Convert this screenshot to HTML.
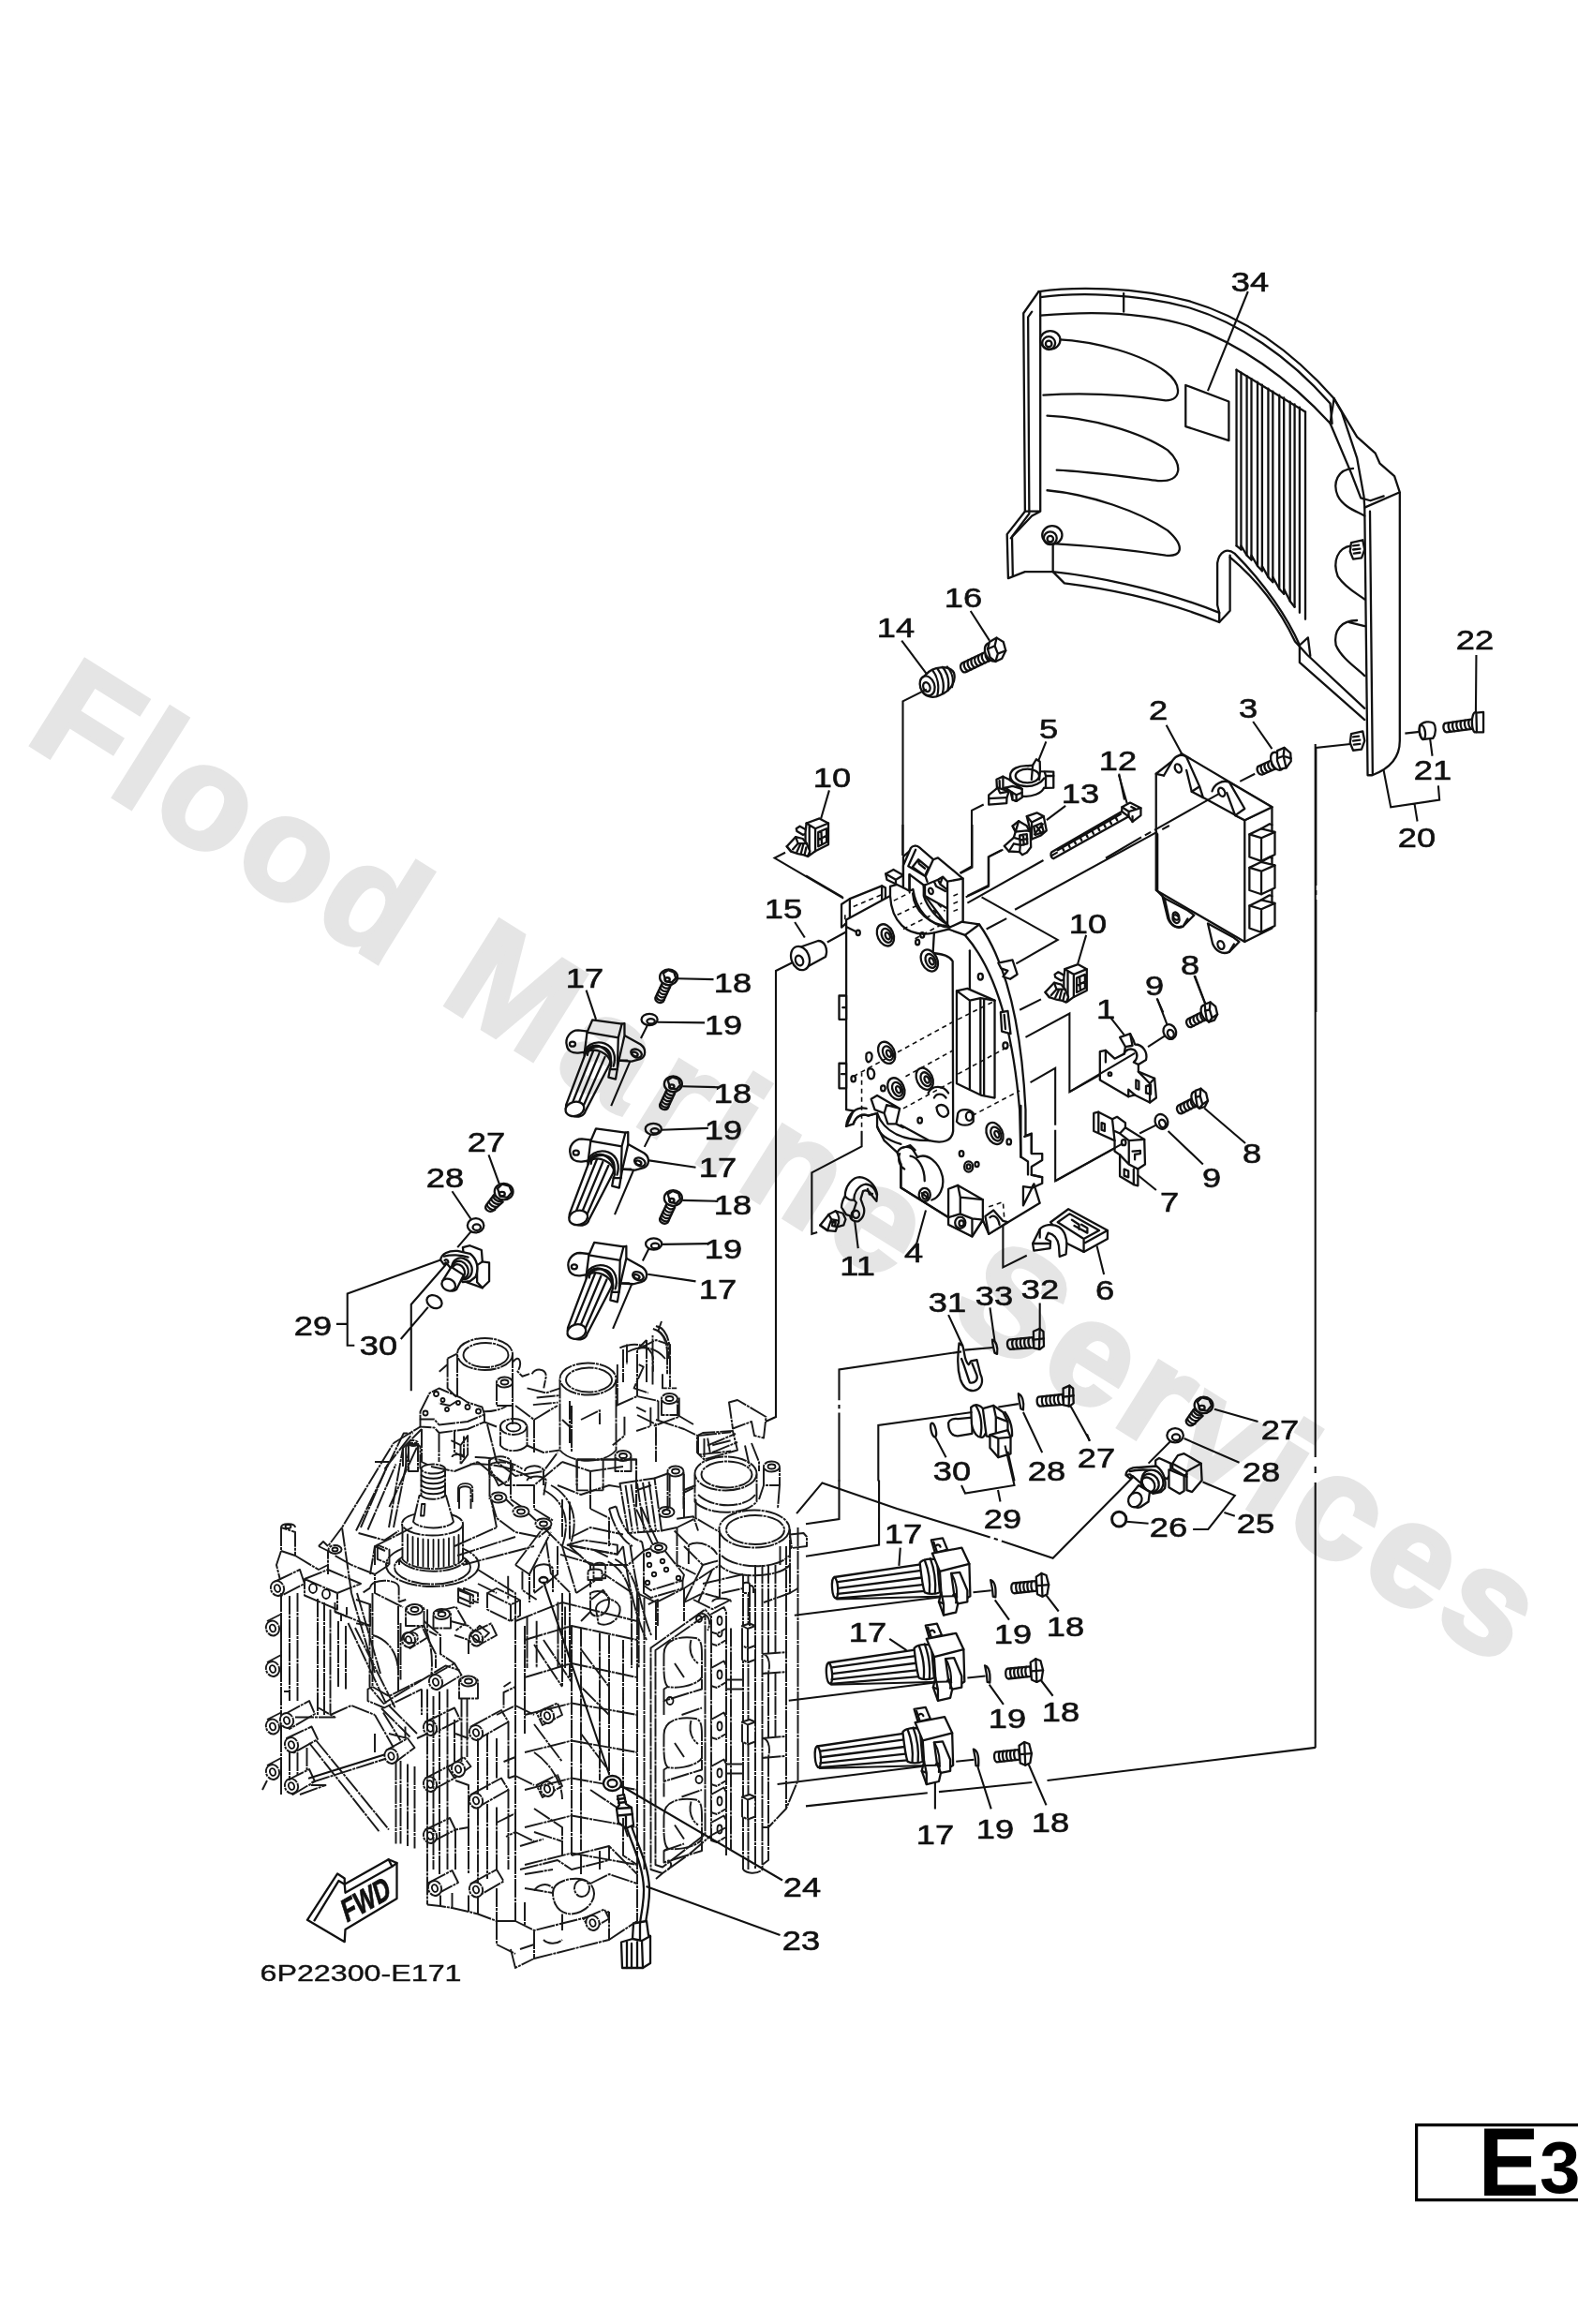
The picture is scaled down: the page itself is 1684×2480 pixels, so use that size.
<!DOCTYPE html>
<html><head><meta charset="utf-8"><title>E3 Electrical 2</title>
<style>
html,body{margin:0;padding:0;background:#fff;}
body{width:1684px;height:2480px;overflow:hidden;font-family:"Liberation Sans",sans-serif;}
svg{display:block;position:absolute;left:0;top:0;}
.k{fill:none;stroke:#111;stroke-width:2.3;stroke-linecap:round;stroke-linejoin:round;}
.k15{fill:none;stroke:#111;stroke-width:1.8;stroke-linecap:round;stroke-linejoin:round;}
.w{fill:#fff;stroke:#111;stroke-width:2.3;stroke-linecap:round;stroke-linejoin:round;}
.w15{fill:#fff;stroke:#111;stroke-width:1.5;stroke-linecap:round;stroke-linejoin:round;}
.ph{fill:none;stroke:#1a1a1a;stroke-width:1.95;stroke-linecap:butt;stroke-linejoin:round;stroke-dasharray:20 1 3 1;}
.phw{fill:#fff;stroke:#1a1a1a;stroke-width:1.95;stroke-linecap:butt;stroke-linejoin:round;stroke-dasharray:20 1 3 1;}
.cl{fill:none;stroke:#111;stroke-width:1.8;stroke-linecap:butt;stroke-dasharray:60 5 6 5;}
.ld{fill:none;stroke:#111;stroke-width:2.1;stroke-linecap:butt;}
.ds{fill:none;stroke:#111;stroke-width:1.6;stroke-dasharray:5 4;}
path,line,polyline,polygon,circle,ellipse,rect{vector-effect:non-scaling-stroke;}
.t{font-family:"Liberation Sans",sans-serif;font-size:29px;fill:#111;stroke:#111;stroke-width:0.6px;text-anchor:middle;}
</style></head><body>
<svg width="1684" height="2480" viewBox="0 0 1684 2480">
<!-- 10_cover.svg -->
<g transform="translate(1040 260) scale(0.40811)">
<!-- outer silhouette filled white to hide watermark? (watermark is below anyway) -->
<path class="k" d="M168,125 C260,112 420,112 560,150 C700,190 830,280 940,405 L1000,505 L1048,548 L1060,575 L1098,608 L1112,650 L1112,1300 C1112,1350 1080,1375 1040,1390 L1028,1390 L1020,690 L1112,650"/>
<path class="k" d="M168,125 L128,182 L132,700 L85,760 L88,875 L132,858 L205,858"/>
<path class="k" d="M172,128 L172,700 L132,700 M172,700 L150,712 L95,770 M205,775 L205,858"/>
<path class="k" d="M150,178 L140,192 L143,706 L98,766 L100,868"/>
<!-- top band second line -->
<path class="k" d="M172,140 C260,128 420,128 556,166 C690,205 822,295 930,418 L935,470"/>
<path class="k" d="M390,130 L390,178"/>
<!-- inner top curve -->
<path class="k" d="M172,188 C260,180 420,172 560,215 C690,260 820,350 930,470 L940,405"/>
<path class="k" d="M930,470 L985,600 L1010,665 L1035,672 L1070,660"/>
<path class="k" d="M940,405 L960,440 L1000,560 L1018,660 L1020,690"/>
<!-- bottom edges -->
<path class="k" d="M205,858 C300,868 480,900 640,965 L640,990 C480,925 330,900 235,888 L205,858"/>
<path class="k" d="M640,965 L635,945 L635,835 C640,805 660,795 680,810 C760,890 820,980 850,1050 L850,1095 L1020,1245"/>
<path class="k" d="M640,990 L668,960 L668,815"/>
<path class="k" d="M668,820 C740,880 800,960 838,1040 L870,1075 L1020,1215"/>
<path class="k" d="M850,1050 L872,1030 L878,1078"/>
<!-- ribs left -->
<path class="k" d="M215,250 C320,255 440,290 500,335 C540,365 545,410 500,410 C400,395 280,390 180,396"/>
<path class="k" d="M190,450 C300,455 430,490 505,540 C545,575 545,625 480,620 C400,610 300,596 215,592"/>
<path class="k" d="M190,645 C300,655 430,700 505,750 C550,790 545,820 500,815 C400,800 300,790 215,785"/>
<!-- bosses -->
<ellipse class="w" cx="198" cy="252" rx="26" ry="24"/><circle class="k" cx="194" cy="260" r="17"/><circle class="k" cx="194" cy="262" r="8"/>
<ellipse class="w" cx="203" cy="762" rx="26" ry="24"/><circle class="k" cx="198" cy="770" r="17"/><circle class="k" cx="198" cy="772" r="8"/>
<path class="k" d="M1034,700 L1041,1386"/>
<!-- label rect + leader -->
<path class="k" d="M552,370 L665,413 L665,515 L552,478 Z"/>
<path class="ld" d="M715,125 L610,385"/>
<!-- fins -->
<g class="k">
<path d="M685,330 L685,790 M697,337 L697,800"/>
<path d="M712,346 L712,815 M724,353 L724,827"/>
<path d="M740,362 L740,843 M752,369 L752,856"/>
<path d="M768,379 L768,872 M780,386 L780,885"/>
<path d="M797,396 L797,903 M809,403 L809,916"/>
<path d="M825,413 L825,935 M837,420 L837,950"/>
<path d="M850,428 L850,965 M865,440 L865,982"/>
<path d="M685,330 L865,440 M685,790 L697,800 L697,790 L712,815 L724,827 L724,815 L740,843 L752,856 L752,843 L768,872 L780,885 L780,872 L797,903 L809,916 L809,903 L825,935 L837,950"/>
</g>
<!-- right side fingers -->
<path class="k" d="M990,588 C950,590 935,625 950,660 C965,690 1000,700 1020,712"/>
<path class="k" d="M985,790 C950,795 935,830 950,870 C970,900 1000,915 1020,930"/>
<path class="k" d="M1000,985 C960,985 938,1010 945,1050 C960,1085 1000,1110 1020,1130 M980,990 L1020,1000"/>
<!-- bolts on right -->
<path class="w" d="M985,782 L1015,775 L1020,800 L1012,822 L990,825 L982,805 Z"/>
<path class="k" d="M990,790 L1005,788 M990,800 L1008,798 M992,810 L1008,808"/>
<path class="w" d="M985,1282 L1015,1275 L1020,1300 L1012,1322 L990,1325 L982,1305 Z"/>
<path class="k" d="M990,1290 L1005,1288 M990,1300 L1008,1298 M992,1310 L1008,1308"/>
</g>
<!-- 20_upper_mid.svg -->
<g transform="translate(800 600) scale(0.25349)">
<!-- leaders -->
<path class="ld" d="M930,205 L1010,330 M640,330 L745,470 M335,960 L300,1080 M1248,755 L1210,850 M1330,1025 L1250,1085 M1555,890 L1578,1000"/>
<!-- bolt 16 -->
<g>
<path class="w" d="M893,425 L1005,372 L1022,408 L910,462 C895,468 880,440 893,425 Z"/>
<path class="k" d="M905,420 C898,432 905,450 918,458 M920,412 C913,425 920,443 933,451 M935,405 C928,418 935,436 948,444 M950,398 C943,411 950,429 963,437 M965,391 C958,404 965,422 978,430 M980,384 C973,397 980,415 993,423 M995,377 C988,390 995,408 1008,416"/>
<ellipse class="w" cx="1020" cy="378" rx="28" ry="40" transform="rotate(-25 1020 378)"/>
<path class="w" d="M1010,335 L1040,318 L1068,335 L1078,372 L1062,405 L1035,418 L1012,400 L1002,365 Z"/>
<path class="k" d="M1040,318 L1032,352 L1002,365 M1032,352 L1045,385 L1035,418 M1045,385 L1078,372"/>
</g>
<!-- part 14 spring grommet -->
<g>
<path class="w" d="M745,470 C770,440 840,430 860,465 C870,500 850,540 800,560 C770,575 735,565 725,540 C712,515 720,490 745,470 Z"/>
<path class="k" d="M770,455 C790,480 800,520 790,562 M790,447 C812,475 822,515 812,552 M812,441 C834,468 842,505 834,540 M832,440 C852,462 860,495 852,525"/>
<ellipse class="w" cx="748" cy="520" rx="30" ry="42" transform="rotate(-20 748 520)"/>
<ellipse class="k" cx="745" cy="525" rx="14" ry="20" transform="rotate(-20 745 525)"/>
</g>
<path class="ld" d="M745,535 L645,585 L645,1235"/>
<path class="ld" d="M150,1222 L105,1245 L395,1415"/>
<path class="ld" d="M985,1020 L935,1045 L935,1280 L885,1308"/>
<path class="ld" d="M1060,1212 L1005,1240 L1005,1365 L910,1410"/>
<!-- centre lines to ECU -->
<path class="ld" d="M190,1515 L232,1580"/>
</g>
<!-- 21_ecu.svg -->
<g transform="translate(1180 680) scale(0.25349)">
<!-- leaders -->
<path class="ld" d="M255,370 L320,490 M620,355 L700,470 M55,580 L90,700 M1365,425 L1375,500 M1560,75 L1558,320 M375,1425 L420,1545 M215,1520 L242,1580"/>
<!-- ECU bottom tabs (behind) -->
<path class="w" d="M240,1095 L262,1185 C275,1215 300,1230 325,1218 L372,1170 L345,1150 Z"/>
<ellipse class="k" cx="296" cy="1186" rx="13" ry="18" transform="rotate(-25 296 1186)"/>
<path class="w" d="M430,1205 L450,1290 C462,1320 490,1338 520,1325 L562,1282 L535,1262 Z"/>
<ellipse class="k" cx="485" cy="1296" rx="13" ry="18" transform="rotate(-25 485 1296)"/>
<path class="k" d="M325,1218 L345,1185 M520,1325 L540,1292"/>
<!-- ECU body -->
<path class="w" d="M212,575 L320,490 L700,715 L700,1225 L585,1282 L212,1065 Z"/>
<path class="k" d="M212,575 L245,582 M585,770 L585,1282 M585,770 L700,715 M410,675 L585,770"/>
<!-- ear 1 -->
<path class="w" d="M245,582 L282,518 C295,498 325,488 340,505 L395,628 L362,650 L410,675 L395,628"/>
<path class="k" d="M362,650 L340,560"/>
<ellipse class="k" cx="305" cy="552" rx="13" ry="19" transform="rotate(-25 305 552)"/>
<!-- ear 2 -->
<path class="w" d="M448,648 C455,620 490,598 520,610 L585,722 L545,750 L585,770 L700,715 L520,610"/>
<path class="k" d="M545,750 L510,655"/>
<ellipse class="k" cx="488" cy="652" rx="13" ry="19" transform="rotate(-25 488 652)"/>
<!-- connectors -->
<g id="ecucon">
<path class="w" d="M605,830 L655,806 L712,820 L712,915 L655,942 L605,925 Z"/>
<path class="k" d="M605,830 L655,845 L712,820 M655,845 L655,942 M655,806 L690,786 L700,790"/>
</g>
<use href="#ecucon" y="140"/>
<use href="#ecucon" y="300"/>
<!-- bolt 3 -->
<path class="w" d="M640,545 L720,508 L735,545 L660,578 C645,582 632,560 640,545 Z"/>
<path class="k" d="M655,540 C650,552 656,568 668,574 M670,533 C665,545 671,561 683,567 M685,526 C680,538 686,554 698,560 M700,519 C695,531 701,547 713,553"/>
<ellipse class="w" cx="722" cy="522" rx="24" ry="40" transform="rotate(-25 722 522)"/>
<path class="w" d="M722,478 L752,465 L778,488 L780,522 L760,550 L735,555 L722,520 Z"/>
<path class="k" d="M752,465 L748,500 L722,510 M748,500 L760,550 M748,500 L780,510"/>
<path class="ld" d="M565,607 L628,575"/>
<!-- centreline through ECU hole -->
<path class="ld" d="M478,658 L205,812 M190,820 L165,834 M150,842 L0,930"/>
<!-- long centre line at x=885 -->
<path class="ld" d="M1030,450 L885,465 L885,1045 M885,1065 L885,1085 M885,1105 L885,1578"/>
<!-- collar 21 -->
<path class="w" d="M1322,372 C1335,355 1365,352 1380,362 C1392,375 1390,410 1378,425 L1335,430 C1322,420 1318,390 1322,372 Z"/>
<ellipse class="k" cx="1333" cy="400" rx="12" ry="30" transform="rotate(-8 1333 400)"/>
<path class="ld" d="M1260,405 L1322,398"/>
<!-- bolt 22 -->
<path class="w" d="M1428,362 L1545,345 L1550,385 L1435,400 C1420,398 1418,370 1428,362 Z"/>
<path class="k" d="M1445,360 C1440,372 1443,390 1452,397 M1462,358 C1457,370 1460,388 1469,395 M1479,355 C1474,367 1477,385 1486,392 M1496,353 C1491,365 1494,383 1503,390 M1513,350 C1508,362 1511,380 1520,387 M1530,348 C1525,360 1528,378 1537,385"/>
<ellipse class="w" cx="1556" cy="358" rx="14" ry="42"/>
<path class="w" d="M1560,318 L1590,315 L1590,400 L1562,400 Z"/>
<!-- bracket 20 -->
<path class="ld" d="M1170,560 L1200,715 L1405,685 L1400,625 M1300,702 L1312,775"/>
</g>
<!-- 22_clips_5_13_12.svg -->
<g transform="translate(1040 790) scale(0.12674)">
<!-- clip 5 -->
<path class="w" d="M300,300 C300,240 370,212 450,215 L490,210 L520,160 L550,180 L552,262 L665,265 L665,400 L600,402 L585,400 C570,445 480,480 405,470 L400,480 L352,512 L320,500 L300,420 Z"/>
<ellipse class="k" cx="445" cy="300" rx="100" ry="58"/>
<path class="k" d="M490,210 L480,330 M552,262 L545,330 M600,402 L600,300 L665,300 M600,300 L590,265 M300,300 C305,350 360,385 440,388 C500,388 560,360 585,320"/>
<path class="w" d="M185,330 L240,305 L290,330 L400,410 L400,480 L352,512 L320,500 L318,440 L260,400 L240,405 L235,450 L190,420 Z"/>
<path class="k" d="M240,305 L240,405 M210,340 L212,410 M260,400 L320,385 L400,410 M318,440 L352,460 L400,440 M352,460 L352,512"/>
<path class="w" d="M120,460 L195,400 L290,430 L272,482 L270,530 L120,542 Z"/>
<path class="k" d="M120,490 L270,482 M195,400 L215,445 L290,430"/>
<!-- clip 13 -->
<path class="w" d="M440,640 L525,610 L582,640 L606,760 L560,800 L482,832 L470,760 Z"/>
<path class="k" d="M440,640 L482,690 L582,640 M482,690 L482,832 M500,725 L562,698 L582,770 L512,797 Z M505,790 L575,705 M520,720 L565,785"/>
<path class="w" d="M320,722 L372,680 L440,720 L462,765 L470,760 L475,900 L440,945 L402,965 L380,940 L290,935 L250,890 L330,820 L345,770 Z"/>
<path class="k" d="M320,722 L345,770 L440,760 L462,765 M345,770 L372,680 M380,800 L440,790 L445,870 L385,885 Z M385,840 L445,830 M410,795 L415,880 M330,820 L385,835 M290,935 L330,870 L380,880 M380,940 L385,885"/>
<!-- cable tie 12 -->
<path class="w" d="M650,940 L1240,600 L1242,562 L1310,525 L1400,570 L1400,632 L1330,686 L1298,642 L664,996 C640,990 638,950 650,940 Z"/>
<path class="k" d="M1242,562 L1298,600 L1400,570 M1298,600 L1298,642 M1240,600 L1298,642 M1320,560 L1350,575 M1330,640 L1330,686"/>
<path class="k" d="M740,905 L752,928 M790,876 L802,899 M840,848 L852,871 M890,820 L902,843 M940,792 L952,815 M990,764 L1002,787 M1040,736 L1052,759 M1090,708 L1102,731 M1140,680 L1152,703 M1190,652 L1202,675"/>
<path class="k" d="M700,925 L1230,622"/>
</g>
<!-- 23_clips10.svg -->
<g transform="translate(820 850) scale(0.12674)">
<defs><g id="clip10">
<path class="w" d="M235,270 L265,250 L322,282 L322,312 L290,322 L240,292 Z"/>
<path class="w" d="M320,225 L430,185 L505,225 L505,405 L395,460 L340,500 L312,470 L312,300 Z"/>
<path class="k" d="M320,225 L395,270 L505,225 M395,270 L395,460 M420,300 L490,270 L490,385 L420,420 Z M420,365 L490,330 M445,290 L450,405 M345,245 L345,480"/>
<path class="w" d="M155,420 L230,340 L290,355 L322,395 L350,460 L332,505 L300,492 L250,482 L190,462 Z"/>
<path class="k" d="M230,340 L250,395 L322,395 M250,395 L205,445 M270,400 L240,465 M295,400 L275,478 M318,430 L305,490 M155,420 L190,462"/>
</g></defs>
<use href="#clip10"/><use href="#clip10" x="2176" y="1228"/>
</g>
<!-- 30_bracket_top.svg -->
<g transform="translate(860 880) scale(0.25349)">
<!-- lines behind -->
<path class="ld" d="M700,0 L700,180 L650,205 M770,135 L770,255 L680,300 M770,135 L830,105"/>
<path class="ld" d="M740,305 L1060,485 L885,585 M1180,465 L1145,585 M900,780 L990,735"/>
<path class="ld" d="M925,895 L1110,795 L1110,1125 L1395,965 M945,1085 L1050,1025 L1050,1265 M1050,1285 L1050,1500 L1350,1335"/>
<path class="ld" d="M1285,815 L1340,885 M1480,735 L1520,840 M1440,935 L1510,890 M1405,1300 L1480,1262 M1525,1290 L1672,1430"/>
<path class="ld" d="M680,330 L1000,150 M1030,133 L1060,116 M880,358 L1480,30 M1500,20 L1530,4 M760,440 L845,395"/>
<path class="ld" d="M90,495 L345,355 M0,215 L155,305"/>
<!-- left top plate (behind) -->
<path class="w" d="M150,335 L185,312 L320,258 L335,265 L335,322 L185,402 L150,432 Z"/>
<path class="k" d="M185,312 L185,402 M320,258 L320,330"/>
<path class="ds" d="M200,345 L330,290 M165,380 L165,420"/>
<!-- main plate -->
<path class="w" d="M170,400 L355,300 L355,260 L410,245 L410,135 L460,90 L480,100 L540,150 L555,145 L660,235 L660,410 L730,420 C830,560 905,800 925,1200 L925,1310 L950,1300 L950,1385 L995,1385 L995,1412 L950,1440 L950,1475 L995,1485 L995,1510 L950,1530 L960,1513 L985,1593 L770,1723 L745,1665 L700,1733 L600,1683 L600,1653 L400,1528 L400,1430 L385,1380 L330,1330 L300,1270 L300,1215 L262,1225 C240,1215 210,1225 200,1260 L170,1270 L200,1205 L170,1200 Z"/>
<!-- left edge tabs -->
<path class="w" d="M140,720 L170,720 L170,820 L140,820 Z M140,1005 L170,1005 L170,1110 L140,1110 Z"/>
<path class="k" d="M155,770 L165,770 M150,1050 L165,1050"/>
<!-- arcs -->
<path class="k" d="M355,300 C360,400 420,480 540,455 L600,440 M450,290 C455,360 520,430 612,425"/>
<path class="k" d="M540,455 L535,540 M670,465 L730,420 M670,465 L600,440"/>
<path class="ds" d="M370,320 L440,285 M385,380 L490,330 M410,440 L540,375 M460,480 L600,405 M600,300 L600,420 M630,250 L630,410"/>
<!-- inner arc of plate edge -->
<path class="k" d="M670,465 C790,600 870,850 900,1200 L905,1400"/>
<path class="k" d="M690,530 L690,690"/>
<!-- raised panel -->
<path class="k" d="M170,430 L210,450 M535,540 C560,545 600,545 618,575 L620,1290 C615,1330 580,1345 520,1330 L400,1265"/>
<path class="k" d="M300,1215 C330,1300 420,1330 520,1330"/>
<!-- ribbed block -->
<path class="w" d="M635,700 L680,690 L795,740 L795,1150 L740,1140 L635,1090 Z"/>
<path class="k" d="M635,700 L690,740 L690,1115 M690,740 L735,730 L795,740 M735,730 L735,1135 M750,735 L750,1140"/>
<!-- grommets -->
<defs><g id="grm"><ellipse class="w" cx="0" cy="0" rx="33" ry="48" transform="rotate(-25)"/><ellipse class="k" cx="4" cy="4" rx="20" ry="31" transform="rotate(-25)"/><ellipse class="k" cx="7" cy="7" rx="9" ry="15" transform="rotate(-25)"/></g></defs>
<use href="#grm" x="335" y="465"/><use href="#grm" x="520" y="572"/><use href="#grm" x="340" y="960"/><use href="#grm" x="500" y="1070"/><use href="#grm" x="380" y="1112"/><use href="#grm" x="795" y="1300"/>
<path class="w" d="M640,1215 C650,1195 690,1195 705,1215 L705,1250 C690,1270 650,1270 635,1250 Z"/><ellipse class="k" cx="688" cy="1228" rx="14" ry="18"/>
<!-- small holes -->
<g class="k"><ellipse cx="220" cy="455" rx="8" ry="11"/><ellipse cx="735" cy="640" rx="10" ry="13"/><ellipse cx="840" cy="930" rx="10" ry="13"/><ellipse cx="200" cy="1070" rx="9" ry="12"/><ellipse cx="325" cy="1110" rx="9" ry="12"/><ellipse cx="480" cy="1245" rx="9" ry="12"/><ellipse cx="655" cy="1385" rx="9" ry="12"/><ellipse cx="855" cy="1335" rx="9" ry="12"/><ellipse cx="490" cy="465" rx="8" ry="11"/><ellipse cx="470" cy="495" rx="8" ry="11"/><ellipse cx="685" cy="1440" rx="18" ry="22"/><ellipse cx="685" cy="1440" rx="8" ry="10"/><ellipse cx="720" cy="1430" rx="8" ry="10"/></g>
<!-- slots -->
<path class="k" d="M255,965 C270,950 285,965 275,990 C262,1010 250,995 255,965 Z M262,1030 C280,1020 295,1040 285,1065 C270,1080 255,1060 262,1030 Z M515,1130 C530,1095 580,1095 600,1130 M540,1150 C550,1130 575,1130 590,1150 M550,1190 C565,1170 600,1180 600,1215 C590,1240 555,1235 550,1190 Z"/>
<!-- right side clips -->
<path class="w" d="M810,582 L870,570 L890,630 L860,650 L830,640 L850,615 L822,605 Z"/>
<path class="w" d="M820,790 L850,785 L862,880 L825,870 Z"/>
<path class="k" d="M835,800 L840,860"/>
<!-- dashed hidden lines -->
<path class="ds" d="M200,1060 L620,830 M640,820 L800,740 M420,1060 L620,950 M640,1050 L860,930 M410,1195 L620,1080 M700,1225 L900,1120 M235,1040 L235,1290"/>
<!-- lower wire guide -->
<path class="k" d="M170,1270 C175,1215 215,1185 255,1195 M200,1260 C210,1225 240,1215 262,1225 L300,1215 M275,1155 L300,1140 L395,1195 L380,1260 L410,1275 M275,1155 L290,1200 L330,1215 L340,1180 L395,1195 M330,1215 L345,1260 L380,1260 M300,1270 C310,1310 350,1330 400,1345"/>
<!-- pipe clamp lower -->
<path class="k" d="M385,1380 C400,1350 440,1350 455,1375 L470,1400 C510,1380 560,1420 575,1480 C585,1530 560,1570 530,1580 M395,1385 C385,1410 395,1440 415,1450 M440,1395 C470,1400 500,1440 500,1500 M410,1360 L440,1350 L460,1370"/>
<!-- lower left lines -->
<path class="ld" d="M235,1290 L235,1355 L25,1465 L25,1723 L48,1716"/>
<!-- vertical from 14 -->
<path class="ld" d="M408,0 L408,130"/>
<!-- part 1 bracket -->
<g>
<path class="w" d="M1238,955 L1262,950 L1300,985 L1340,965 L1345,935 L1322,895 L1365,880 L1378,905 L1385,925 C1420,925 1440,960 1432,990 L1400,1010 L1400,1040 L1468,1068 L1475,1150 L1448,1170 L1385,1138 L1358,1145 L1238,1075 Z"/>
<path class="k" d="M1365,880 L1375,930 L1345,935 M1340,965 C1345,945 1370,940 1385,950 C1400,965 1395,990 1380,1000 L1400,1010 M1262,950 L1262,1000 M1358,1145 L1358,1115 L1385,1138 M1448,1170 L1448,1090 L1400,1040 M1448,1090 L1468,1068"/>
<path class="k" d="M1390,1075 L1402,1080 L1402,1115 L1390,1110 Z M1432,1100 L1452,1095 L1452,1135 L1432,1130 Z"/>
<circle class="k" cx="1280" cy="1050" r="7"/>
</g>
<path class="ld" d="M1385,962 L1110,1125"/>
<!-- washers 9 -->
<ellipse class="w" cx="1532" cy="872" rx="26" ry="32" transform="rotate(-25 1532 872)"/><ellipse class="k" cx="1536" cy="880" rx="13" ry="17" transform="rotate(-25 1536 880)"/>
<ellipse class="w" cx="1497" cy="1250" rx="26" ry="32" transform="rotate(-25 1497 1250)"/><ellipse class="k" cx="1501" cy="1258" rx="13" ry="17" transform="rotate(-25 1501 1258)"/>
<!-- part 7 bracket -->
<g>
<path class="w" d="M1212,1215 L1232,1210 L1290,1240 L1310,1230 L1345,1255 L1345,1275 L1425,1325 L1428,1430 L1398,1450 L1398,1520 L1380,1515 L1322,1480 L1322,1390 L1300,1375 L1300,1330 L1212,1290 Z"/>
<path class="k" d="M1232,1210 L1232,1295 M1290,1240 L1300,1330 M1345,1275 L1322,1300 L1300,1290 M1322,1300 L1360,1330 L1425,1325 M1360,1330 L1360,1430 L1398,1450 M1360,1430 L1322,1390 M1380,1450 L1380,1515"/>
<path class="k" d="M1245,1255 L1258,1260 L1258,1290 L1245,1285 Z M1375,1375 L1408,1372 L1408,1385 L1385,1388 L1385,1410 M1340,1450 L1358,1458 L1358,1485 L1340,1478 Z"/>
<ellipse class="k" cx="1338" cy="1338" rx="9" ry="12"/>
</g>
<path class="ld" d="M1335,1342 L1050,1500"/>
<!-- ECU lower tab remnant -->
<path class="k" d="M1480,40 L1480,280 L1510,310 L1530,400 C1540,425 1560,435 1580,428"/>
<ellipse class="k" cx="1558" cy="385" rx="12" ry="17" transform="rotate(-25 1558 385)"/>
</g>
<!-- 30b_hook.svg -->
<g transform="translate(930 890) scale(0.12674)">
<path class="w" d="M120,335 L185,300 L268,348 L268,452 L130,385 Z"/>
<path class="k" d="M120,335 L205,385 L268,348 M205,385 L205,420"/>
<path class="w" d="M268,452 L268,265 L330,120 C345,95 385,95 402,112 L520,215 L560,200 L770,375 L770,735 L660,785 L600,720 L450,520 L440,430 L320,340 L320,480 Z"/>
<path class="k" d="M310,270 L372,132 M345,278 L395,215 L480,285 L450,352 Z M310,270 L455,357 L520,215 M455,357 L470,402 M395,215 L400,250 L450,290"/>
<path class="k" d="M450,430 L560,385 L600,360 L640,400 L770,375 M560,385 L578,422 L640,470 M640,400 L640,760 M450,430 L450,520 L640,628 M528,400 L545,440 L622,482 M600,360 L578,422"/>
<ellipse class="k" cx="500" cy="480" rx="18" ry="26" transform="rotate(-20 500 480)"/>
<path class="ds" d="M690,520 L740,500 M690,585 L740,565 M690,650 L740,630 M560,590 L620,650 M520,640 L600,720"/>
<path class="k" d="M320,340 L320,480 L350,465 C370,620 480,780 660,785 M440,430 L440,520 C470,620 560,720 640,760"/>
</g>
<!-- 31_bracket_low.svg -->
<g transform="translate(860 1180) scale(0.25349)">
<!-- leaders -->
<path class="ld" d="M1225,590 L1255,710 M205,480 L220,600 M505,440 L465,585 M1395,290 L1475,355 M600,880 L660,1010 M775,850 L795,990 M985,830 L985,935 M1115,1265 L1195,1410 M915,1290 L995,1460 M545,1395 L590,1480"/>
<path class="ld" d="M830,490 L830,680 L930,630"/>
<!-- bracket lower details -->
<path class="k" d="M400,245 L400,345 L600,470"/>
<path class="k" d="M905,0 L905,215 L935,235 L935,290 M920,130 L950,120 M950,200 L950,120 M950,290 L995,300 M915,340 L915,420 L960,330 M950,345 L915,340"/>
<ellipse class="k" cx="500" cy="375" rx="24" ry="28"/><ellipse class="k" cx="502" cy="378" rx="12" ry="15"/><path class="k" d="M488,368 L515,388"/>
<!-- block -->
<path class="w" d="M600,350 L640,335 L745,395 L745,480 L700,550 L600,500 Z"/>
<path class="k" d="M640,335 L650,385 L745,395 M650,385 L650,455 L700,475 L745,480 M700,475 L700,550 M600,470 L650,455"/>
<ellipse class="k" cx="650" cy="492" rx="22" ry="24"/><ellipse class="k" cx="655" cy="495" rx="10" ry="12"/>
<path class="w" d="M755,465 L790,440 L830,485 L850,490 L770,540 Z"/>
<path class="k" d="M775,470 C790,455 810,470 815,500"/>
<path class="ds" d="M770,425 L830,405 L835,470"/>
<!-- part 6 clip -->
<g>
<path class="w" d="M1030,490 L1105,435 L1270,525 L1270,560 L1170,615 L1100,580 Z"/>
<path class="k" d="M1060,490 L1110,455 L1235,525 L1170,560 Z M1170,560 L1170,615 M1170,580 L1270,525 M1120,480 L1150,500 L1150,520 M1130,505 L1185,535 L1185,515 L1160,500"/>
<path class="w" d="M985,520 C1000,500 1040,495 1065,510 C1090,525 1100,560 1098,590 L1095,625 L1068,635 L1065,590 C1060,560 1045,540 1020,535 L1010,560 L1030,570 L1028,600 L960,610 L955,580 Z"/>
<path class="k" d="M955,580 L1028,580 M985,520 L985,555"/>
</g>
<!-- clip 31 -->
<path class="w" d="M645,1000 L660,1010 C670,1040 665,1070 685,1090 L695,1075 L720,1070 L735,1130 C750,1160 740,1195 705,1200 C680,1200 660,1180 650,1150 C635,1100 640,1050 645,1000 Z"/>
<path class="k" d="M655,1065 C670,1100 680,1140 690,1165 C710,1170 725,1155 720,1135 L700,1085"/>
<!-- washer 33 -->
<path class="w" d="M785,985 C800,990 810,1015 805,1045 L795,1040 C790,1020 785,1000 785,985 Z"/>
<!-- bolt 32 -->
<g id="bolth">
<path class="w" d="M855,985 L955,975 L960,1018 L860,1025 C845,1020 845,990 855,985 Z"/>
<path class="k" d="M872,984 C866,995 868,1015 876,1023 M889,982 C883,993 885,1013 893,1021 M906,980 C900,991 902,1011 910,1019 M923,979 C917,990 919,1010 927,1018 M940,977 C934,988 936,1008 944,1016"/>
<path class="w" d="M958,950 L985,938 L1000,950 L1002,1012 L985,1025 L960,1020 Z"/>
<path class="k" d="M985,938 L982,1025 M960,985 L1002,980"/>
</g>
<use href="#bolth" x="125" y="240"/>
<path class="ld" d="M655,1035 L140,1110 L140,1240 M140,1258 L140,1275 M140,1292 L140,1580 M668,1028 L788,1018"/>
<!-- washer 28 -->
<path class="w" d="M895,1212 C910,1218 920,1245 915,1280 L905,1275 C900,1250 895,1230 895,1212 Z"/>
<!-- sensor 29 -->
<g>
<path class="w" d="M600,1335 C605,1320 625,1315 640,1318 L700,1312 L700,1380 L640,1390 C615,1392 600,1370 600,1335 Z"/>
<path class="w" d="M695,1270 C715,1250 740,1260 755,1290 C770,1330 765,1380 745,1395 C725,1400 705,1380 698,1340 Z"/>
<path class="w" d="M745,1275 L790,1262 L830,1290 L850,1330 L850,1380 L800,1400 L760,1390 Z"/>
<path class="k" d="M715,1262 C735,1290 745,1340 735,1392 M790,1262 L800,1310 L850,1330 M800,1310 L800,1400"/>
<path class="w" d="M775,1385 L850,1365 L862,1395 L862,1465 L810,1480 L775,1440 Z"/>
<path class="k" d="M775,1385 L810,1400 L862,1395 M810,1400 L810,1480"/>
<path class="k" d="M838,1290 C860,1320 870,1350 868,1390"/>
</g>
<path class="ld" d="M700,1290 L305,1345 L305,1580 M810,1268 L895,1255 M850,1455 L878,1580"/>
<ellipse class="k" cx="537" cy="1365" rx="10" ry="30" transform="rotate(-12 537 1365)"/>
</g>
<!-- 32_bolts8.svg -->
<g transform="translate(1180 1000) scale(0.12674)">
<defs><g id="bolt8">
<path class="w" d="M690,690 L840,615 L870,680 L720,758 C690,765 665,715 690,690 Z"/>
<path class="k" d="M715,680 C700,700 712,740 740,748 M745,665 C730,685 742,725 770,733 M775,650 C760,670 772,710 800,718 M805,635 C790,655 802,695 830,703"/>
<ellipse class="w" cx="850" cy="640" rx="42" ry="72" transform="rotate(-25 850 640)"/>
<path class="w" d="M835,565 L880,548 L925,585 L940,650 L915,700 L868,715 L850,690 L838,620 Z"/>
<path class="k" d="M880,548 L875,610 L838,620 M875,610 L895,680 L868,715 M895,680 L940,650"/>
</g></defs>
<use href="#bolt8"/><use href="#bolt8" x="-80" y="728"/>
<path class="ld" d="M745,325 L835,555 M830,1440 L1176,1736"/>
</g>
<!-- part 15 spacer redone (source coords) -->
<g transform="translate(789 600) scale(0.5)">
<path class="w" d="M128,822 L168,808 C182,808 190,825 184,842 L140,866 Z"/>
<ellipse class="w" cx="130" cy="845" rx="19" ry="26" transform="rotate(-20 130 845)"/>
<ellipse class="k" cx="128" cy="850" rx="8" ry="11" transform="rotate(-20 128 850)"/>
<path class="ld" d="M112,855 L78,872 L78,1580"/>
</g>
<!-- 33_clip11.svg -->
<g transform="translate(860 1220) scale(0.12674)">
<path class="w" d="M330,445 C330,350 400,285 452,285 C520,290 590,350 600,430 L595,488 L550,432 C540,400 505,392 482,402 L462,470 L480,520 C500,560 495,620 445,655 C400,665 375,640 370,610 L340,600 L300,540 C300,500 315,470 330,445 Z"/>
<path class="k" d="M405,475 C405,405 452,352 505,345 C550,345 585,385 595,430 M405,475 L425,500 L405,560 C385,580 380,600 385,625 M520,385 L535,430 L560,425 M330,445 C345,470 380,485 405,475"/>
<ellipse class="k" cx="422" cy="598" rx="28" ry="32"/>
<path class="w" d="M120,690 L192,600 L250,570 L312,590 L335,640 L318,690 L262,705 L250,740 L182,735 Z"/>
<path class="k" d="M250,570 C280,600 290,650 262,705 M192,600 L215,640 L182,735 M215,640 L262,650 M225,660 L250,665 L245,700 L222,695 Z M120,690 L182,735"/>
</g>
<!-- 40_vcoils.svg -->
<g transform="translate(560 1010) scale(0.19011)">
<defs>
<g id="vcoil">
<path class="ld" d="M610,600 L485,895 M690,440 L652,515"/>
<path class="w" d="M236,555 C225,515 255,470 300,470 L560,500 L650,550 C685,575 680,620 648,632 L600,645 L520,640 L340,592 L300,598 C265,600 240,585 236,555 Z"/>
<ellipse class="k" cx="268" cy="548" rx="16" ry="13"/>
<ellipse class="k" cx="626" cy="600" rx="32" ry="22" transform="rotate(25 626 600)"/><ellipse class="k" cx="618" cy="604" rx="17" ry="11" transform="rotate(25 618 604)"/>
<path class="w" d="M232,890 L345,590 C400,565 470,600 482,650 L340,925 C335,950 300,962 270,952 C240,940 226,915 232,890 Z"/>
<path class="k" d="M385,585 L270,872 M418,600 L300,885 M450,620 L325,905"/>
<ellipse class="w" cx="281" cy="912" rx="53" ry="40" transform="rotate(-15 281 912)"/>
<path class="w" d="M350,482 L380,412 L545,435 L560,432 L560,500 L528,640 L510,745 L470,735 L478,690 C500,640 470,580 420,560 C390,550 360,560 335,600 Z"/>
<path class="k" d="M545,435 L525,512 L350,482 M525,512 L520,690 L478,690 M520,640 L575,640"/>
<path class="k" d="M335,612 C330,560 390,525 450,545 C500,565 515,620 498,672 M352,610 C352,572 400,552 445,567 C480,582 490,620 478,655"/>
</g>
<g id="vbolt">
<path class="w" d="M772,205 L733,288 C730,310 760,324 777,310 L818,222 Z"/>
<path class="k" d="M768,215 C775,232 795,240 812,232 M760,232 C767,249 787,257 804,249 M752,249 C759,266 779,274 796,266 M744,266 C751,283 771,291 788,283 M738,283 C745,300 765,308 782,300"/>
<ellipse class="w" cx="808" cy="172" rx="50" ry="44"/>
<path class="k" d="M778,150 L805,133 L838,145 L848,178 L825,202 L792,196 Z"/>
<ellipse class="k" cx="800" cy="186" rx="14" ry="11"/>
</g>
<g id="vwash"><ellipse class="w" cx="700" cy="410" rx="45" ry="32"/><ellipse class="k" cx="708" cy="420" rx="22" ry="14"/></g>
</defs>
<use href="#vcoil"/><use href="#vcoil" x="20" y="610"/><use href="#vcoil" x="10" y="1250"/>
<use href="#vbolt"/><use href="#vbolt" x="25" y="600"/><use href="#vbolt" x="25" y="1240"/>
<use href="#vwash"/><use href="#vwash" x="22" y="615"/><use href="#vwash" x="24" y="1260"/>
<path class="ld" d="M345,245 L400,410 M860,180 L1060,185 M745,425 L1010,428 M885,785 L1085,790 M768,1030 L1030,1020 M690,1200 L960,1240 M885,1425 L1085,1430 M770,1672 L1030,1668 M690,1840 L960,1880"/>
</g>
<!-- 41_left_sensor.svg -->
<g transform="translate(300 1180) scale(0.19011)">
<path class="ld" d="M1165,275 L1225,440 M960,480 L1065,635 M1080,690 L990,795 M895,865 L372,1055 L372,1345 L412,1345 M310,1225 L372,1225 M935,880 L730,1115 L730,1600 M825,1130 L672,1310"/>
<!-- bolt 27 -->
<path class="w" d="M1195,500 L1150,560 C1140,580 1165,600 1185,592 L1245,540 Z"/>
<path class="k" d="M1190,508 C1195,525 1215,540 1235,538 M1178,522 C1183,539 1203,554 1223,552 M1166,538 C1171,555 1191,570 1211,568 M1155,555 C1160,572 1180,587 1200,585"/>
<ellipse class="w" cx="1250" cy="482" rx="52" ry="46"/>
<path class="k" d="M1215,465 L1240,440 L1280,450 L1295,485 L1270,515 L1230,508 Z"/>
<ellipse class="k" cx="1240" cy="495" rx="16" ry="12"/>
<!-- washer 28 -->
<ellipse class="w" cx="1092" cy="672" rx="46" ry="40"/><ellipse class="k" cx="1098" cy="682" rx="22" ry="17"/>
<!-- sensor 29 -->
<path class="w" d="M1020,795 L1060,785 L1125,810 L1130,875 L1168,880 L1168,985 L1130,1022 L1040,990 Z"/>
<path class="k" d="M1130,875 L1100,895 L1100,990 L1130,1022 M1100,895 L1060,880"/>
<path class="w" d="M895,865 C900,830 940,812 990,815 L1060,830 C1100,860 1112,910 1092,960 L1060,985 L1020,990 L925,880 L915,892 Z"/>
<path class="k" d="M915,845 C950,835 1010,835 1050,850 M918,868 C926,860 940,865 938,880"/>
<ellipse class="w" cx="1015" cy="915" rx="55" ry="62" transform="rotate(-30 1015 915)"/>
<ellipse class="k" cx="1005" cy="922" rx="44" ry="52" transform="rotate(-30 1005 922)"/>
<ellipse class="k" cx="995" cy="930" rx="34" ry="42" transform="rotate(-30 995 930)"/>
<path class="w" d="M905,985 L955,905 L1025,950 L985,1030 C960,1052 910,1030 905,985 Z"/>
<ellipse class="w" cx="940" cy="1005" rx="40" ry="32" transform="rotate(30 940 1005)"/>
<!-- o-ring 30 -->
<ellipse class="k" cx="860" cy="1100" rx="45" ry="34" transform="rotate(30 860 1100)"/>
</g>
<!-- 42_hcoils.svg -->
<g transform="translate(860 1610) scale(0.20279)">
<defs>
<g id="hcoil">
<path class="w" d="M660,165 L720,155 L745,215 L680,232 Z"/>
<path class="k" d="M672,175 L690,228 M685,195 C695,185 705,190 708,200"/>
<path class="w" d="M150,360 L620,290 L640,432 L160,472 C135,470 130,365 150,360 Z"/>
<path class="k" d="M168,385 L625,322 M168,418 L630,360 M166,448 L636,398"/>
<path class="k" d="M150,360 C170,375 175,455 160,472"/>
<path class="w" d="M600,285 C615,265 660,258 690,270 L705,440 C680,452 640,450 625,440 C612,400 605,330 600,285 Z"/>
<path class="k" d="M625,270 C645,320 655,390 650,445 M655,262 C675,315 685,385 680,446"/>
<path class="w" d="M665,235 L820,205 L860,290 L865,460 L800,500 L790,545 L725,560 L700,490 L712,440 L705,330 Z"/>
<path class="k" d="M705,330 L860,290 M700,490 L725,500 L725,560 M712,440 L725,500"/>
<path class="w" d="M765,340 L810,335 L850,430 L850,490 L800,500 L780,450 Z"/>
<path class="k" d="M765,340 C790,380 800,440 790,495 M775,455 C782,445 795,450 795,465"/>
<path class="ld" d="M160,476 L780,460"/>
</g>
<g id="hwash"><path class="w" d="M972,375 C990,380 1002,410 998,465 L985,462 C984,430 978,400 972,375 Z"/><path class="ld" d="M880,440 L975,430"/></g>
<g id="hbolt">
<path class="w" d="M1090,392 L1210,380 L1215,432 L1095,445 C1078,440 1078,398 1090,392 Z"/>
<path class="k" d="M1110,390 C1102,402 1105,432 1114,442 M1130,388 C1122,400 1125,430 1134,440 M1150,386 C1142,398 1145,428 1154,438 M1170,384 C1162,396 1165,426 1174,436 M1190,382 C1182,394 1185,424 1194,434"/>
<path class="w" d="M1212,358 L1240,340 L1265,350 L1278,400 L1270,450 L1245,462 L1218,450 Z"/>
<path class="k" d="M1240,340 L1245,462 M1215,405 L1278,400"/>
</g>
</defs>
<!-- long lines behind -->
<path class="ld" d="M175,-150 L175,55 L0,80 M385,-150 L385,190 L0,250"/>
<path class="ld" d="M-49,25 L86,-136 L480,0 L970,150 M990,157 L1010,163 M1030,170 L1300,260 L1723,-168"/>
<path class="ld" d="M0,1565 L640,1495 M700,1490 L1190,1440 M1270,1430 L2682,1257"/>
<use href="#hcoil"/><use href="#hcoil" x="-30" y="450"/><use href="#hcoil" x="-90" y="890"/>
<path class="ld" d="M-60,561 L700,466 M-90,1010 L670,916 M-150,1450 L610,1356"/>
<use href="#hwash"/><use href="#hwash" x="-30" y="450"/><use href="#hwash" x="-90" y="890"/>
<use href="#hbolt"/><use href="#hbolt" x="-30" y="450"/><use href="#hbolt" x="-90" y="888"/>
<path class="ld" d="M497,205 L490,300 M440,685 L530,745 M680,1440 L680,1580 M995,480 L1070,585 M1265,455 L1330,540 M965,925 L1040,1030 M1235,900 L1300,985 M905,1360 L975,1580 M1170,1340 L1265,1560"/>
</g>
<!-- 43_sensor25.svg -->
<g transform="translate(1160 1420) scale(0.19011)">
<path class="ld" d="M715,440 L960,510 M545,605 L855,740 M490,600 L345,745 M650,850 L830,925 L680,1115 L595,1115 M770,1020 L830,1040 M222,1072 L345,1082 M0,580 L15,620"/>
<!-- bolt 27 -->
<path class="w" d="M600,440 L558,500 C550,520 575,540 595,530 L650,478 Z"/>
<path class="k" d="M596,448 C602,465 622,478 640,476 M585,462 C591,479 611,492 629,490 M574,478 C580,495 600,508 618,506 M563,495 C569,512 589,525 607,523"/>
<ellipse class="w" cx="655" cy="418" rx="52" ry="46"/>
<path class="k" d="M620,400 L645,376 L685,386 L700,420 L675,450 L635,444 Z"/>
<ellipse class="k" cx="645" cy="432" rx="16" ry="12"/>
<!-- washer 28 -->
<ellipse class="w" cx="495" cy="588" rx="46" ry="40"/><ellipse class="k" cx="500" cy="598" rx="22" ry="17"/>
<!-- sensor 25 -->
<path class="w" d="M385,728 L405,715 L470,745 L470,800 L450,832 L385,800 Z"/>
<path class="w" d="M510,700 L545,690 L640,745 L645,840 L590,905 L560,895 L560,820 L480,775 L480,745 Z"/>
<path class="k" d="M480,745 L560,790 L640,745 M560,790 L560,820"/>
<path class="w" d="M460,780 L545,815 L545,900 L520,915 L460,880 Z"/>
<path class="k" d="M545,815 L560,805"/>
<path class="w" d="M218,810 C220,780 250,765 290,768 L390,760 C430,790 447,840 437,885 L415,905 L370,915 L255,815 L245,832 Z"/>
<path class="k" d="M240,790 C280,778 350,778 385,790 M225,812 C232,802 250,806 250,822"/>
<ellipse class="w" cx="368" cy="845" rx="58" ry="66" transform="rotate(-35 368 845)"/>
<ellipse class="k" cx="355" cy="855" rx="46" ry="54" transform="rotate(-35 355 855)"/>
<ellipse class="k" cx="342" cy="865" rx="36" ry="44" transform="rotate(-35 342 865)"/>
<path class="w" d="M236,935 L290,868 L352,905 L345,960 L300,990 C270,1002 232,975 236,935 Z"/>
<ellipse class="w" cx="270" cy="950" rx="36" ry="42" transform="rotate(35 270 950)"/>
<!-- o-ring 26 -->
<ellipse class="k" style="stroke-width:3" cx="180" cy="1058" rx="40" ry="42"/>
</g>
<!-- long assembly lines (source coordinates) -->
<g>
<path class="ld" d="M1026,1585 L1030,1593.5 L1082.5,1585 L1072.5,1542.5 M1065,1590 L1067.5,1602.5"/>
<path class="ld" d="M1403.7,794 L1403.7,1555 M1403.7,1565 L1403.7,1572 M1403.7,1582 L1403.7,1865"/>
<path class="ld" d="M828,1390 L828,1512 L806,1522"/>
</g>
<!-- 50_engine_a.svg -->
<g transform="translate(250 1350) scale(0.5)">
<!-- ============ upper structure ============ -->
<!-- cylinders (intake) -->
<g id="cylA">
<path class="phw" d="M476,190 L476,290 C500,320 570,320 594,290 L594,190 Z"/>
<ellipse class="phw" cx="535" cy="190" rx="59" ry="34"/><ellipse class="ph" cx="537" cy="192" rx="48" ry="26"/>
</g>
<path class="phw" d="M695,245 L695,395 C720,425 790,425 815,395 L815,245 Z"/>
<ellipse class="phw" cx="755" cy="243" rx="60" ry="34"/><ellipse class="ph" cx="757" cy="245" rx="49" ry="26"/>
<path class="ph" d="M720,300 L720,400 M740,330 L780,310 L780,340 M700,330 L716,345 M716,290 L716,380"/>
<!-- left holed plate -->
<path class="phw" d="M397,313 L417,273 L437,263 L483,283 L498,293 L529,303 L534,319 L498,334 L437,341 L427,329 L397,329 Z"/>
<path class="ph" d="M397,329 L397,345 L427,347 L437,358 L498,350 L534,335 L534,319"/>
<g class="k15"><circle cx="431" cy="275" r="5"/><circle cx="408" cy="316" r="5"/><circle cx="498" cy="303" r="5"/><circle cx="521" cy="312" r="5"/><circle cx="445" cy="288" r="4"/><circle cx="478" cy="294" r="4"/><circle cx="454" cy="308" r="4"/></g>
<!-- bosses -->
<defs><g id="boss"><ellipse class="phw" cx="0" cy="0" rx="17" ry="11"/><ellipse class="k15" cx="0" cy="0" rx="8" ry="5"/></g></defs>
<path class="phw" d="M560,250 L560,300 L594,300 L594,250 Z"/><use href="#boss" x="577" y="250"/>
<path class="phw" d="M568,345 C568,330 620,325 625,345 L625,385 C610,400 580,400 568,385 Z"/><ellipse class="phw" cx="596" cy="345" rx="28" ry="17"/><ellipse class="k15" cx="596" cy="346" rx="15" ry="9"/>
<use href="#boss" x="929" y="285"/><path class="ph" d="M912,287 L912,320 L946,320 L946,287"/>
<use href="#boss" x="830" y="407"/><path class="ph" d="M813,409 L813,440 L847,440 L847,409"/>
<use href="#boss" x="564" y="496"/><use href="#boss" x="612" y="526"/><use href="#boss" x="660" y="552"/>
<path class="ph" d="M548,500 L560,540 L600,570 L650,580 L676,560 M580,500 L596,515 M628,530 L644,545"/>
<use href="#boss" x="942" y="440"/><path class="ph" d="M925,442 L925,520 M959,442 L959,520"/>
<use href="#boss" x="922" y="527"/>
<!-- upper misc structure lines -->
<path class="ph" d="M330,560 L360,390 L400,350 M340,560 L372,400 M372,380 L372,440 L392,440 L392,380 Z"/>
<ellipse class="ph" cx="382" cy="380" rx="10" ry="6"/>
<path class="ph" d="M437,360 L437,420 M470,352 L470,400 L490,410 L490,365 M400,350 L400,420 L420,430"/>
<path class="ph" d="M540,340 L560,420 L600,450 L660,440 L690,400 M520,420 L580,470 L640,470 L700,420"/>
<path class="ph" d="M545,420 C545,405 590,405 590,420 L590,450 M620,440 C620,425 660,425 660,440 L660,470 M545,420 L545,455"/>
<path class="ph" d="M480,480 C480,470 505,470 505,480 L505,520 M480,480 L480,520"/>
<path class="ph" d="M600,300 L640,330 L690,300 M640,330 L640,400 M815,300 L860,280 L905,290 M860,280 L860,180 L900,160 L930,170 L930,260"/>
<path class="ph" d="M830,180 L830,250 M840,185 C870,170 900,175 920,200 M905,140 C920,150 928,170 928,200 M900,130 L912,135"/>
<path class="ph" d="M700,420 L760,440 L830,430 M760,440 L760,520 M690,470 L740,490 L800,470 L860,480"/>
<path class="ph" d="M660,480 C700,500 720,540 700,600 M676,470 C716,490 740,540 716,600"/>
<path class="ph" d="M800,520 C810,560 830,590 850,600 M815,515 C825,555 845,585 870,590 M800,520 L815,515"/>
<!-- finned piece -->
<path class="phw" d="M823,466 L897,455 L912,567 L841,572 Z"/>
<path class="ph" d="M835,470 L850,570 M847,468 L862,570 M860,466 L875,569 M872,464 L888,568 M885,462 L900,567"/>
<!-- right perforated plate -->
<path class="phw" d="M874,610 L909,597 L960,661 L957,673 L889,694 L874,684 Z"/>
<path class="ph" d="M874,684 L874,700 L889,710 L957,690 L957,673"/>
<g class="k15"><circle cx="884" cy="618" r="4.5"/><circle cx="904" cy="610" r="4.5"/><circle cx="886" cy="640" r="4.5"/><circle cx="914" cy="632" r="4.5"/><circle cx="896" cy="660" r="4.5"/><circle cx="922" cy="650" r="4.5"/><circle cx="882" cy="678" r="4.5"/><circle cx="948" cy="668" r="4.5"/></g>
<ellipse class="phw" cx="906" cy="603" rx="17" ry="10"/><ellipse class="k15" cx="906" cy="603" rx="8" ry="5"/>
<!-- right cylinders C & D -->
<path class="phw" d="M983,447 L983,505 C1010,535 1090,535 1115,505 L1115,447 Z"/>
<ellipse class="phw" cx="1049" cy="445" rx="66" ry="36"/><ellipse class="ph" cx="1051" cy="447" rx="54" ry="28"/>
<path class="ph" d="M990,490 C1020,520 1090,520 1112,490 M985,470 L960,480 L960,540"/>
<path class="phw" d="M1036,565 L1036,640 C1060,670 1160,670 1186,640 L1186,565 Z"/>
<ellipse class="phw" cx="1110" cy="563" rx="75" ry="40"/><ellipse class="ph" cx="1112" cy="565" rx="62" ry="31"/>
<path class="ph" d="M1040,620 C1070,650 1160,650 1184,620"/>
<path class="phw" d="M1186,575 L1215,572 L1222,580 L1222,600 L1190,604 Z"/>
<!-- top-right bracket -->
<path class="phw" d="M1056,293 L1074,288 L1135,324 L1130,369 L1110,364 L1104,334 L1064,349 Z"/>
<path class="phw" d="M988,364 L1000,358 L1064,354 L1074,395 L1003,415 L988,400 Z"/>
<path class="ph" d="M1003,370 L1003,415 M1010,385 L1070,360 M1020,400 L1074,378 M1104,380 L1120,420 L1120,440 M1090,385 L1100,430"/>
<use href="#boss" x="1147" y="430"/><path class="ph" d="M1130,432 L1130,470 L1164,470 L1164,432 M1130,470 L1120,500 M1164,470 L1160,520"/>
<!-- lines from cyl C to D region -->
<path class="ph" d="M945,560 L985,540 L1036,570 M945,560 L945,640 L985,660 M985,540 L985,500 M960,600 L1000,640 L1036,630"/>
<path class="ph" d="M1000,640 L960,720 M1020,650 L990,720"/>
</g>
<!-- 51_engine_b.svg -->
<g transform="translate(250 1350) scale(0.5)">
<!-- ============ crankshaft & gear ============ -->
<ellipse class="phw" cx="423" cy="640" rx="99" ry="46"/>
<ellipse class="ph" cx="423" cy="645" rx="81" ry="36"/>
<path class="phw" d="M359,552 L359,628 C380,655 470,655 488,628 L488,552 Z"/>
<path class="ph" d="M352,628 C375,662 475,662 496,628 M352,628 L352,640 M496,628 L496,640"/>
<path class="k15" d="M370,575 L370,632 M381,580 L381,638 M392,583 L392,641 M403,585 L403,643 M414,586 L414,644 M425,586 L425,644 M436,586 L436,644 M447,585 L447,643 M458,583 L458,641 M469,580 L469,638 M479,576 L479,633"/>
<ellipse class="phw" cx="423" cy="552" rx="65" ry="25"/>
<path class="phw" d="M382,548 L395,492 L452,492 L468,548 C455,565 395,565 382,548 Z"/>
<path class="k15" d="M400,510 L398,535 L405,535 L407,510 Z"/>
<path class="phw" d="M399,435 L399,492 C410,502 440,502 450,492 L450,435 Z"/>
<ellipse class="phw" cx="424.5" cy="435" rx="25.5" ry="10"/>
<path class="k15" d="M399,448 C410,458 440,458 450,448 M399,459 C410,469 440,469 450,459 M399,470 C410,480 440,480 450,470 M399,481 C410,491 440,491 450,481"/>
<!-- structure around crank -->
<path class="ph" d="M330,640 L300,660 L300,700 L360,730 M300,660 L250,640 M322,610 L300,600 L290,660"/>
<path class="ph" d="M270,560 L330,420 M285,565 L345,425 M250,700 L230,560 L340,380"/>
<path class="ph" d="M520,650 L600,700 L600,760 M520,680 L560,700 M490,690 L520,700 L520,720 L490,712 Z"/>
<path class="ph" d="M470,600 L560,560 M476,620 L600,580 M488,640 L640,600 M560,560 L548,500"/>
<path class="ph" d="M600,640 L660,560 M630,660 L676,570 M600,640 L630,660 L630,720 M660,560 L700,600 L730,700"/>
<!-- blocks near crank -->
<path class="phw" d="M540,700 L590,725 L590,760 L540,735 Z"/><path class="ph" d="M540,700 L560,690 L610,715 L590,725 M610,715 L610,748 L590,760"/>
<path class="phw" d="M478,690 L510,705 L510,722 L478,708 Z"/>
<!-- ============ left frame ============ -->
<path class="ph" d="M100,560 L100,610 L130,620 L130,570 Z M100,560 C100,550 130,550 130,560"/>
<ellipse class="k15" cx="115" cy="558" rx="6" ry="4"/>
<path class="ph" d="M100,610 L90,640 L100,680 M130,620 L180,650 L200,640 M180,600 L200,610 L200,660 M180,600 L190,590 L200,600"/>
<ellipse class="phw" cx="215" cy="607" rx="14" ry="9"/><ellipse class="k15" cx="215" cy="607" rx="6" ry="4"/>
<path class="ph" d="M150,670 L220,700 L220,735 L150,705 Z M150,670 L200,650 L270,680 L220,700"/>
<ellipse class="k15" cx="168" cy="690" rx="8" ry="10"/><ellipse class="k15" cx="196" cy="702" rx="8" ry="10"/>
<defs><g id="lboss"><ellipse class="phw" cx="0" cy="0" rx="14" ry="16" transform="rotate(-20)"/><ellipse class="k15" cx="0" cy="0" rx="6" ry="8" transform="rotate(-20)"/></g></defs>
<path class="phw" d="M88,675 L140,650 L150,680 L100,706 Z"/><use href="#lboss" x="92" y="690"/>
<use href="#lboss" x="82" y="775"/><use href="#lboss" x="82" y="862"/><use href="#lboss" x="82" y="985"/><use href="#lboss" x="82" y="1082"/>
<path class="ph" d="M70,760 L100,745 L100,800 M70,848 L100,832 L100,888 M70,970 L100,955 L100,1010 M70,1068 L100,1052 L100,1110 M70,1100 L60,1120"/>
<path class="ph" d="M100,700 L100,1130 M118,706 L118,910 M135,700 L135,930 M178,712 L178,960 M192,720 L192,960 M205,735 L205,960 M106,910 L118,910 L118,930"/>
<path class="phw" d="M105,960 L160,930 L172,958 L118,990 Z"/><use href="#lboss" x="112" y="972"/>
<path class="phw" d="M112,1010 L165,985 L178,1012 L125,1042 Z"/><use href="#lboss" x="122" y="1024"/>
<path class="phw" d="M112,1100 L160,1076 L172,1102 L125,1130 Z"/><use href="#lboss" x="122" y="1112"/>
<path class="ph" d="M130,965 L215,965 L180,945 M140,1130 L195,1110 L160,1110 M118,1040 L118,1100 M135,1040 L135,1090 M155,1030 L155,1080"/>
<!-- diagonal brace -->
<path class="k" d="M160,1095 L320,1045"/><path class="ph" d="M165,1104 L322,1054"/>
<path class="phw" d="M325,1035 L370,1010 L385,1030 L345,1060 Z"/><use href="#lboss" x="335" y="1048"/>
<path class="ph" d="M160,1020 L310,1210 M175,1015 L330,1205 M330,1000 L370,1010 M300,960 L340,1030 M318,955 L355,1015 M365,985 L365,1010"/>
<!-- column under crank -->
<path class="ph" d="M295,700 L295,900 L330,920 L400,885 M350,728 L350,910 M295,900 L285,905 L285,930 L320,945 L400,905"/>
<path class="ph" d="M250,700 L300,870 M262,700 L312,872"/>
<path class="ph" d="M215,720 L215,740 L240,750 L240,730 M228,745 L228,760"/>
<path class="phw" d="M366,735 C366,722 405,722 405,735 L405,770 L366,770 Z"/><use href="#boss" x="385" y="735"/>
<path class="phw" d="M362,790 L400,770 L412,795 L375,818 Z"/><use href="#lboss" x="372" y="800"/>
<path class="ph" d="M405,760 L440,790 L440,830 L470,850 M412,795 L430,830 L430,860"/>
<path class="phw" d="M425,745 C425,733 462,733 462,745 L462,775 L425,775 Z"/><use href="#boss" x="443" y="745"/>
<path class="ph" d="M462,760 L500,770 L520,790 L500,800 L470,790 M500,800 L500,830"/>
<path class="phw" d="M505,785 L548,765 L560,790 L520,812 Z"/><use href="#lboss" x="516" y="797"/>
<!-- mid bosses & column -->
<path class="phw" d="M420,878 L470,850 L485,875 L435,905 Z"/><use href="#lboss" x="430" y="890"/>
<path class="phw" d="M480,888 C480,876 520,876 520,888 L520,925 L480,925 Z"/><use href="#boss" x="500" y="888"/>
<path class="phw" d="M408,975 L470,945 L482,970 L420,1002 Z"/><use href="#lboss" x="418" y="988"/>
<path class="phw" d="M505,985 L570,950 L585,975 L520,1012 Z"/><use href="#lboss" x="516" y="998"/>
<path class="phw" d="M645,955 L690,935 L700,960 L658,982 Z"/><use href="#lboss" x="668" y="962"/>
<path class="phw" d="M408,1095 L460,1068 L472,1094 L420,1122 Z"/><use href="#lboss" x="418" y="1108"/>
<path class="phw" d="M455,1072 L490,1050 L505,1070 L470,1095 Z"/><use href="#lboss" x="478" y="1076"/>
<path class="phw" d="M505,1130 L570,1095 L585,1120 L520,1157 Z"/><use href="#lboss" x="516" y="1143"/>
<path class="phw" d="M645,1110 L690,1088 L700,1112 L658,1136 Z"/><use href="#lboss" x="668" y="1118"/>
<path class="phw" d="M408,1205 L460,1180 L472,1205 L420,1232 Z"/><use href="#lboss" x="418" y="1218"/>
<path class="phw" d="M415,1318 L465,1292 L478,1318 L428,1345 Z"/><use href="#lboss" x="428" y="1330"/>
<path class="phw" d="M505,1320 L560,1290 L575,1315 L520,1347 Z"/><use href="#lboss" x="516" y="1333"/>
<path class="ph" d="M412,905 L412,1365 M438,910 L438,1300 M455,905 L455,1290 M485,925 L485,1060 M497,925 L497,1050 M470,970 L470,1060"/>
<path class="ph" d="M520,1010 L520,1130 M540,1000 L540,1120 M585,975 L585,1095 M560,960 L600,940 L600,900 L575,912 L575,945"/>
<path class="ph" d="M520,1157 L520,1320 M540,1150 L540,1310 M585,1120 L585,1290 M560,1190 L600,1170 L600,1210 L580,1220"/>
<path class="ph" d="M575,1060 L600,1050 L600,1090 L585,1095 M575,900 L590,890"/>
<path class="ph" d="M472,1100 L500,1110 L500,1200 L472,1205 M500,1200 L500,1300"/>
<path class="ph" d="M440,1345 L440,1368 M465,1340 L465,1372 M500,1345 L500,1380 M520,1347 L520,1385 M412,1365 L440,1368 L465,1372 L500,1380 L520,1385 L560,1400"/>
</g>
<!-- 52_engine_c.svg -->
<g transform="translate(250 1350) scale(0.5)">
<!-- ============ head face (right bank) ============ -->
<path class="phw" d="M889,817 L1005,735 L1018,751 L1018,1217 L970,1258 L914,1298 L889,1290 Z"/>
<path class="ph" d="M899,822 L1005,748 L1005,1215 L914,1285 L899,1280 Z"/>
<g id="port"><path class="ph" d="M917,830 C917,800 950,790 985,796 C998,800 998,815 998,830 L998,880 C990,895 950,905 925,900 C915,890 917,860 917,830 Z"/><path class="ph" d="M975,800 C970,820 975,840 990,850 M925,900 L917,905 L917,930 L998,905 L998,880"/></g>
<use href="#port" y="172"/><use href="#port" y="345"/>
<path class="ph" d="M917,930 L917,960 M917,1105 L917,1135 M955,960 L998,945 M955,1135 L998,1120"/>
<ellipse class="k15" cx="992" cy="755" rx="6" ry="7"/><ellipse class="k15" cx="930" cy="930" rx="7" ry="8"/><ellipse class="k15" cx="992" cy="1098" rx="7" ry="8"/>
<path class="ph" d="M914,1298 L900,1310 M925,1270 C935,1275 935,1285 925,1290"/>
<!-- tabs right of head -->
<g id="htab"><path class="phw" d="M1018,770 L1045,755 L1050,765 L1050,800 L1030,812 L1018,808 Z"/><ellipse class="k15" cx="1036" cy="784" rx="5" ry="9"/></g>
<use href="#htab" y="-25"/><use href="#htab" y="90"/><use href="#htab" y="200"/><use href="#htab" y="300"/><use href="#htab" y="360"/><use href="#htab" y="420"/>
<!-- rail with clips -->
<path class="ph" d="M1086,660 L1086,1290 M1097,660 L1097,1290 M1112,640 L1112,1290 M1127,640 L1127,1290 M1086,1290 C1095,1300 1118,1300 1127,1290"/>
<g id="rclip"><path class="phw" d="M1084,800 L1100,795 L1112,800 L1112,842 L1096,848 L1084,842 Z"/><path class="ph" d="M1084,800 L1096,806 L1112,800 M1096,806 L1096,848"/></g>
<use href="#rclip" y="-30"/><use href="#rclip" y="175"/><use href="#rclip" y="335"/>
<path class="ph" d="M1100,690 L1100,770 M1095,690 C1095,682 1108,682 1108,690 L1108,700"/>
<path class="phw" d="M1086,682 C1086,676 1100,676 1100,682 L1100,700 L1086,700 Z"/>
<!-- cylinders between head and rail -->
<path class="ph" d="M1050,885 L1084,885 M1050,905 L1084,905 M1050,1065 L1084,1065 M1050,1085 L1084,1085"/>
<path class="ph" d="M1127,830 C1140,830 1145,850 1140,870 L1127,872 M1127,1010 C1140,1010 1145,1030 1140,1050 L1127,1052 M1127,830 L1180,826 M1127,872 L1180,868 M1127,1010 L1175,1006 M1127,1052 L1175,1048"/>
<!-- far-right phantom verticals -->
<path class="ph" d="M1178,600 L1178,1160 L1140,1200 L1127,1200 M1203,560 L1203,1100 L1178,1160 M1140,1200 L1140,1270 L1127,1280"/>
<!-- ============ centre region between column and head ============ -->
<path class="ph" d="M600,760 L600,1400 M620,770 L620,1000 M700,700 L700,900 M716,700 L716,880 M860,700 L860,1300 M875,710 L875,1290"/>
<path class="ph" d="M600,760 L700,720 L860,760 M620,800 L720,770 L860,800 M620,880 L720,850 L860,880 M620,960 L720,935 L860,960"/>
<path class="ph" d="M620,1040 L720,1015 L860,1040 M620,1120 L720,1095 L860,1120 M620,1200 L720,1175 L860,1200 M620,1280 L720,1255 L860,1280"/>
<path class="ph" d="M720,770 L720,1260 M740,775 L740,1250 M780,785 L780,1100 M800,790 L800,1090 M830,800 L830,1180"/>
<path class="ph" d="M640,810 L700,900 M660,800 L720,890 M640,980 L700,1060 M740,820 L800,900 L800,960 L740,900 M740,1000 L800,1080"/>
<path class="ph" d="M760,700 C780,690 800,700 800,720 C800,745 770,760 760,740 Z M760,740 L740,760"/>
<path class="ph" d="M640,1040 C670,1060 700,1100 700,1140 M760,1120 L820,1160 L840,1220 M640,1160 L700,1200 L700,1260"/>
<!-- long solid line to o-ring 24 -->
<path class="ld" d="M660,676 L800,1086"/>
<ellipse class="k" cx="660" cy="672" rx="9" ry="6"/>
<path class="ph" d="M640,650 L640,700 M680,650 L680,700 M640,650 C640,635 680,635 680,650"/>
<!-- right top over head -->
<path class="ph" d="M860,700 L900,720 L960,690 L1036,640 M900,720 L900,800 M960,690 L960,760 M1000,680 L1086,660 M1040,700 L1086,690"/>
<path class="ph" d="M716,600 L760,640 L840,640 L874,610 M730,700 L790,660 L850,700 M760,640 L760,690"/>
<path class="phw" d="M755,655 C755,647 785,647 785,655 L785,672 L755,672 Z"/>
<path class="ph" d="M690,600 L690,660 L640,700 M700,600 L740,620"/>
<path class="ph" d="M830,600 C840,680 860,760 880,800 M845,598 C855,670 870,740 890,790"/>
<!-- bottom area -->
<path class="ph" d="M600,1400 L640,1420 L800,1380 M640,1420 L640,1480 L600,1500 L590,1460 M640,1480 L800,1440 L800,1380"/>
<path class="ph" d="M680,1340 C680,1310 740,1300 760,1320 C780,1345 760,1380 720,1385 C695,1385 680,1365 680,1340 Z"/>
<ellipse class="ph" cx="742" cy="1330" rx="16" ry="18"/>
<path class="phw" d="M745,1395 L790,1375 L800,1395 L760,1418 Z"/><use href="#lboss" x="765" y="1404"/>
<path class="ph" d="M610,1290 L690,1270 L720,1290 L800,1270 M610,1240 L660,1225 M620,1330 L680,1340 M660,1440 C670,1450 690,1450 700,1440 M610,1460 L640,1450"/>
<path class="ph" d="M560,1400 L600,1400 M560,1330 L560,1400"/>
<path class="ph" d="M720,1260 L800,1240 L860,1300 M800,1240 L800,1270 M640,1210 L700,1230"/>
<!-- sensor 23 / o-ring 24 -->
<ellipse class="w" cx="807" cy="1106" rx="19" ry="16"/><ellipse class="k" cx="807" cy="1106" rx="10" ry="8"/>
<path class="ld" d="M825,1111 L1170,1313 M879,1326 L1165,1430"/>
<path class="w" d="M818,1133 L832,1130 L836,1150 L848,1158 L852,1195 L836,1202 L820,1190 L816,1160 L822,1152 Z"/>
<path class="k" d="M818,1140 L834,1138 M820,1148 L836,1146 M816,1160 L848,1158 M818,1175 L850,1172 M836,1202 L836,1175"/>
<path class="k" d="M838,1202 C850,1240 872,1280 874,1330 C875,1360 868,1385 866,1405 M848,1198 C862,1240 884,1280 886,1330 C887,1360 880,1385 878,1405"/>
<path class="w" d="M852,1405 L880,1400 L884,1430 L888,1432 L888,1490 L872,1500 L828,1500 L826,1445 L850,1438 Z"/>
<path class="k" d="M850,1438 L870,1442 L888,1432 M870,1442 L872,1500 M838,1445 L838,1500 M848,1448 L848,1500 M860,1445 L860,1500 M866,1405 L866,1440"/>
</g>
<!-- 53_engine_d.svg -->
<g transform="translate(250 1350) scale(0.5)">
<!-- (a) crankcase left-middle -->
<path class="ph" d="M243,764 L324,936 M258,774 L344,946 M289,723 L289,900 L319,936 L334,926 L451,855 L481,865 M355,764 L355,885"/>
<path class="ph" d="M314,946 L375,1007 M330,940 L390,1000 M355,1058 L355,1235 M370,1065 L370,1240 M385,1070 L385,1245"/>
<path class="ph" d="M205,960 L250,940 L300,960 M215,740 L290,770 M222,760 L222,900 M238,770 L238,905"/>
<path class="ph" d="M400,905 L400,960 M390,1010 L412,1000 M345,1060 L345,1235 M300,1000 L300,1040"/>
<path class="ph" d="M296,790 C330,800 350,830 350,870 M405,770 C420,800 425,840 420,880"/>
<!-- (b) upper centre -->
<path class="ph" d="M731,415 L858,415 L858,516 M731,415 L731,470 M711,597 L818,617 L830,600 M720,580 L760,560 L830,575"/>
<path class="ph" d="M700,500 L700,580 M716,505 L716,585 M760,520 L800,540 L800,600 M640,470 L640,520 L680,545"/>
<path class="ph" d="M900,330 L960,350 L988,364 M905,290 L905,330 M946,320 L980,340 M860,320 L900,340 L900,420"/>
<path class="ph" d="M880,250 L880,160 M893,255 L893,150 M905,140 L912,120 M860,180 L880,160"/>
<path class="ph" d="M625,385 L660,400 L695,395 M594,300 L594,340 M476,290 L460,300 L437,295 M534,335 L560,345"/>
<path class="ph" d="M912,567 L945,560 M897,455 L925,445 M860,480 L890,470 M870,590 L874,610"/>
<path class="ph" d="M960,720 L1000,700 L1036,710 M1036,640 L1036,710 M1186,640 L1186,700 L1130,720"/>
<!-- (e) upper-left -->
<path class="ph" d="M300,600 L380,560 M340,380 L397,345 M360,390 L360,430 M420,430 L470,440 L520,420 M300,420 L330,420"/>
<path class="ph" d="M465,410 C465,402 490,402 490,410 M545,455 L545,500 M590,450 L590,500 L612,515"/>
<path class="ph" d="M230,560 L200,600 M250,640 L215,620 M300,600 L300,640"/>
<!-- (c) lower centre -->
<path class="ph" d="M620,1300 L680,1290 M760,1320 L800,1300 L860,1320 M700,1385 L700,1420 M800,1440 L860,1400 L860,1300"/>
<path class="ph" d="M640,1335 C650,1320 670,1318 680,1330 M560,1400 L560,1450 L600,1470 M620,1360 L620,1410"/>
<path class="ph" d="M740,1260 L740,1300 M780,1250 L780,1290 M830,1180 L830,1260 L860,1280"/>
<!-- (d) right side -->
<path class="ph" d="M1140,640 L1140,830 M1155,640 L1155,826 M1140,872 L1140,1010 M1155,870 L1155,1008 M1140,1052 L1140,1200"/>
<path class="ph" d="M1186,700 L1203,690 M1165,600 L1165,640"/>
<!-- head extra -->
<path class="ph" d="M940,850 L960,880 M940,1020 L960,1050 M940,1195 L960,1225 M917,1250 L960,1235"/>
<path class="ph" d="M1050,770 L1050,1260 M1060,775 L1060,1250 M1018,1217 L1050,1200"/>
<!-- middle column extras -->
<path class="ph" d="M425,920 L425,1290 M472,1000 L500,1010 M472,1205 L472,1290 M560,1010 L560,1095 M560,1157 L560,1290"/>
<path class="ph" d="M600,940 L640,960 M600,1090 L640,1110 M600,1210 L640,1230"/>
</g>
<!-- 54_engine_e.svg -->
<g transform="translate(380 1380) scale(0.25349)">
<!-- extra density, view1 coords -->
<path class="ph" d="M385,275 L385,400 L425,440 M385,275 L425,255 M350,330 L385,300 M660,290 C690,250 700,300 680,330 L700,350 L730,340"/>
<path class="ph" d="M740,340 C760,310 800,320 800,350 L790,400 M720,400 L800,420 L860,400 M760,440 L860,430 M745,470 L850,460"/>
<path class="ph" d="M1110,230 C1180,200 1240,220 1250,270 L1250,330 M1140,215 L1140,300 M1100,300 L1100,470 M1190,300 L1210,310 L1170,400 L1230,420"/>
<path class="ph" d="M1250,150 C1290,160 1310,200 1310,260 L1310,340 M1270,140 C1300,150 1320,190 1322,250 M1290,340 L1290,400 L1350,400"/>
<path class="ph" d="M1240,480 L1240,560 L1180,580 M1360,440 L1360,520 L1250,560 M1180,480 L1220,500 M1130,520 L1130,600 L1080,640"/>
<path class="ph" d="M1440,600 L1578,585 M1440,600 L1440,680 L1578,665 M1480,610 L1490,670 M1500,640 L1578,620"/>
<path class="ph" d="M0,1000 L200,590 L240,590 M120,740 L230,600 M140,900 L260,640 M10,1010 L120,1040 L180,1000"/>
<path class="ph" d="M90,1060 L90,1120 L140,1140 L140,1080 Z M60,1240 C60,1200 180,1200 180,1240 L180,1300 M30,1260 L60,1240"/>
<path class="ph" d="M0,1290 L60,1310 L60,1400 L0,1390 M180,1300 L210,1290 M300,1330 L300,1420 L340,1440"/>
<path class="ph" d="M200,1450 C200,1420 260,1420 260,1450 C260,1480 200,1480 200,1450 Z M340,1340 L420,1320 L460,1390 L420,1420"/>
<path class="ph" d="M430,1250 L480,1270 L480,1320 L430,1300 Z M520,1400 L560,1430 L520,1470 L480,1440 Z"/>
<path class="ph" d="M560,700 L560,760 L620,800 M440,640 L470,600 L470,680 L440,720 Z M400,620 L440,640"/>
<path class="ph" d="M500,690 C560,690 640,700 700,740 M480,720 C560,715 660,730 740,780"/>
<path class="ph" d="M560,730 C560,705 660,705 660,730 L640,790 L600,810 Z M720,790 C720,765 800,765 800,790 L790,850"/>
<path class="ph" d="M430,820 C430,795 490,795 490,820 L490,880 M430,820 L430,880 M210,650 C210,630 270,630 270,650 L270,740 M210,650 L210,740"/>
<path class="ph" d="M930,700 L1180,700 L1180,900 M930,700 L930,830 L1040,830 M1040,700 L1040,830"/>
<path class="ph" d="M890,1060 L1100,1100 L1100,1060 L960,1040 Z M860,1100 L1000,1140 M1000,1080 L1060,1110"/>
<path class="ph" d="M640,1190 L640,1290 M700,1170 L700,1250 L760,1290 M800,1040 L820,1180 L900,1260"/>
<path class="ph" d="M1180,910 L1250,1060 M1200,900 L1270,1050 M1060,1130 C1120,1160 1160,1230 1160,1320 L1160,1578 M1090,1120 C1150,1150 1190,1230 1190,1320 L1190,1578"/>
<path class="ph" d="M1320,760 L1320,900 L1290,920 M1380,760 L1380,890 M1420,820 L1380,840 M1350,950 L1420,940 L1440,1000"/>
<path class="ph" d="M1000,1150 C1000,1130 1050,1130 1050,1150 L1050,1200 L1000,1200 Z M990,1290 L1040,1250 L1070,1290"/>
<path class="ph" d="M1400,1060 C1440,1040 1500,1060 1520,1100 M1340,1000 L1400,1060 L1400,1140 M1500,1300 C1500,1280 1578,1280 1578,1300"/>
<path class="ph" d="M1230,1310 L1270,1290 L1270,1400 M1420,1290 L1500,1330 L1578,1290 M1440,1350 C1480,1340 1500,1380 1480,1420"/>
<path class="ph" d="M1010,1330 C1010,1290 1090,1270 1110,1320 C1120,1370 1060,1410 1020,1390 Z"/>
<path class="ph" d="M720,1360 L720,1578 M760,1380 L760,1578 M850,1300 L850,1578 M880,1320 L880,1578"/>
</g>
<!-- 55_fwd.svg -->
<g transform="translate(260 1950) scale(0.25349)">
<path class="w" d="M268,390 L395,195 L425,215 L425,240 L610,135 L645,150 L645,300 L428,430 L425,482 Z"/>
<path class="k" d="M298,392 L400,225 L425,240 M425,240 L428,275 M428,275 L625,165 L610,135 M625,165 L645,150"/>
<text transform="translate(432 402) rotate(-29.5) skewX(-12) scale(0.74 1)" style="font-family:'Liberation Sans',sans-serif;font-weight:bold;font-size:132px;fill:#111;stroke:#111;stroke-width:3px">FWD</text>
</g>
<!-- 90_watermark.svg -->
<g transform="translate(25 790) rotate(32.1)" style="mix-blend-mode:multiply;font-family:'Liberation Sans',sans-serif;font-weight:bold;font-size:156px;fill:#e5e5e5;stroke:#e5e5e5;stroke-width:5px;stroke-linejoin:miter">
<text x="0" y="0" style="letter-spacing:8px">Flood</text>
<text x="522" y="0" style="letter-spacing:13px">Marine</text>
<text x="1162" y="0" style="letter-spacing:8px">Services</text>
</g>
<!-- 99_e3.svg -->
<rect x="1511.6" y="2267.6" width="200" height="80" fill="#fff" stroke="#000" stroke-width="3.2"/>
<text transform="translate(1577.5 2343) scale(0.94 1)" style="font-family:'Liberation Sans',sans-serif;font-weight:bold;font-size:104px;fill:#000">E</text>
<text x="1643" y="2340" style="font-family:'Liberation Sans',sans-serif;font-weight:bold;font-size:78px;fill:#000">3</text>
<text class="t" transform="translate(1334 310.682) scale(1.25 1)">34</text>
<text class="t" transform="translate(1028 647.682) scale(1.25 1)">16</text>
<text class="t" transform="translate(956 679.682) scale(1.25 1)">14</text>
<text class="t" transform="translate(1119 787.682) scale(1.25 1)">5</text>
<text class="t" transform="translate(1193 821.682) scale(1.25 1)">12</text>
<text class="t" transform="translate(1153 856.682) scale(1.25 1)">13</text>
<text class="t" transform="translate(1236 767.682) scale(1.25 1)">2</text>
<text class="t" transform="translate(1332 765.682) scale(1.25 1)">3</text>
<text class="t" transform="translate(888 839.682) scale(1.25 1)">10</text>
<text class="t" transform="translate(836 979.682) scale(1.25 1)">15</text>
<text class="t" transform="translate(1161 995.682) scale(1.25 1)">10</text>
<text class="t" transform="translate(1180 1086.68) scale(1.25 1)">1</text>
<text class="t" transform="translate(1232 1061.68) scale(1.25 1)">9</text>
<text class="t" transform="translate(1270 1039.68) scale(1.25 1)">8</text>
<text class="t" transform="translate(1336 1240.68) scale(1.25 1)">8</text>
<text class="t" transform="translate(1293 1266.68) scale(1.25 1)">9</text>
<text class="t" transform="translate(1248 1292.68) scale(1.25 1)">7</text>
<text class="t" transform="translate(1179 1386.68) scale(1.25 1)">6</text>
<text class="t" transform="translate(975 1347.18) scale(1.25 1)">4</text>
<text class="t" transform="translate(915 1361.18) scale(1.25 1)">11</text>
<text class="t" transform="translate(1529 831.682) scale(1.25 1)">21</text>
<text class="t" transform="translate(1512 903.682) scale(1.25 1)">20</text>
<text class="t" transform="translate(1574 692.682) scale(1.25 1)">22</text>
<text class="t" transform="translate(1011 1399.68) scale(1.25 1)">31</text>
<text class="t" transform="translate(1061 1392.68) scale(1.25 1)">33</text>
<text class="t" transform="translate(1110 1385.68) scale(1.25 1)">32</text>
<text class="t" transform="translate(1170 1565.68) scale(1.25 1)">27</text>
<text class="t" transform="translate(1117 1579.68) scale(1.25 1)">28</text>
<text class="t" transform="translate(1016 1579.68) scale(1.25 1)">30</text>
<text class="t" transform="translate(1070 1630.68) scale(1.25 1)">29</text>
<text class="t" transform="translate(1366 1535.68) scale(1.25 1)">27</text>
<text class="t" transform="translate(1346 1580.68) scale(1.25 1)">28</text>
<text class="t" transform="translate(1340 1635.68) scale(1.25 1)">25</text>
<text class="t" transform="translate(1247 1639.68) scale(1.25 1)">26</text>
<text class="t" transform="translate(964 1646.68) scale(1.25 1)">17</text>
<text class="t" transform="translate(1081 1753.68) scale(1.25 1)">19</text>
<text class="t" transform="translate(1137 1745.68) scale(1.25 1)">18</text>
<text class="t" transform="translate(926 1751.68) scale(1.25 1)">17</text>
<text class="t" transform="translate(1075 1843.68) scale(1.25 1)">19</text>
<text class="t" transform="translate(1132 1836.68) scale(1.25 1)">18</text>
<text class="t" transform="translate(998 1967.68) scale(1.25 1)">17</text>
<text class="t" transform="translate(1062 1961.68) scale(1.25 1)">19</text>
<text class="t" transform="translate(1121 1954.68) scale(1.25 1)">18</text>
<text class="t" transform="translate(856 2023.68) scale(1.25 1)">24</text>
<text class="t" transform="translate(855 2080.68) scale(1.25 1)">23</text>
<text class="t" transform="translate(334 1424.68) scale(1.25 1)">29</text>
<text class="t" transform="translate(404 1445.68) scale(1.25 1)">30</text>
<text class="t" transform="translate(624 1053.68) scale(1.25 1)">17</text>
<text class="t" transform="translate(782 1058.68) scale(1.25 1)">18</text>
<text class="t" transform="translate(772 1103.68) scale(1.25 1)">19</text>
<text class="t" transform="translate(782 1176.68) scale(1.25 1)">18</text>
<text class="t" transform="translate(772 1215.68) scale(1.25 1)">19</text>
<text class="t" transform="translate(766 1255.68) scale(1.25 1)">17</text>
<text class="t" transform="translate(782 1295.68) scale(1.25 1)">18</text>
<text class="t" transform="translate(772 1342.68) scale(1.25 1)">19</text>
<text class="t" transform="translate(766 1385.68) scale(1.25 1)">17</text>
<text class="t" transform="translate(519 1228.68) scale(1.25 1)">27</text>
<text class="t" transform="translate(475 1266.68) scale(1.25 1)">28</text>
<text transform="translate(277.5 2114.3) scale(1.30 1)" style="font-family:'Liberation Sans',sans-serif;font-size:24.8px;fill:#111;stroke:#111;stroke-width:0.4px">6P22300-E171</text>
</svg>
</body></html>
